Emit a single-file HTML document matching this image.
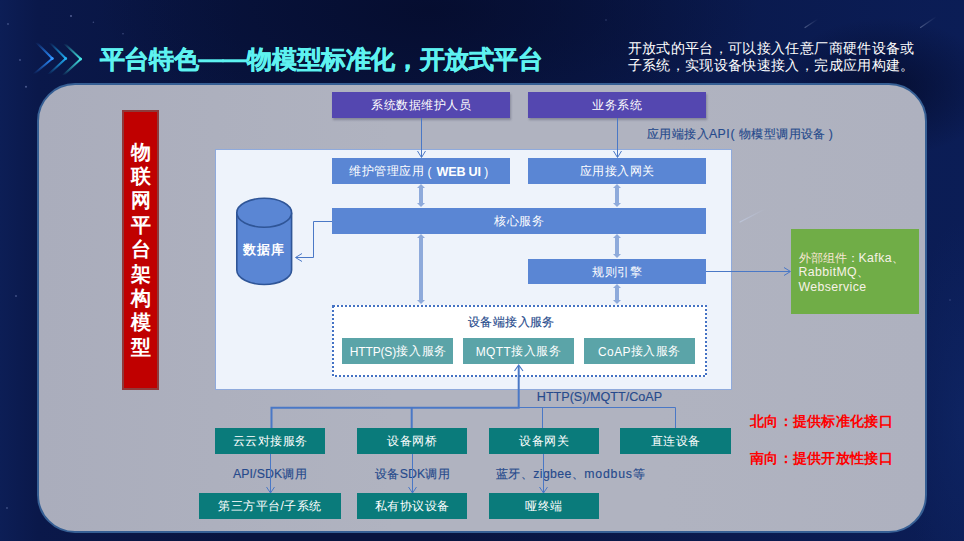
<!DOCTYPE html>
<html><head><meta charset="utf-8">
<style>
*{margin:0;padding:0;box-sizing:border-box}
html,body{width:964px;height:541px;overflow:hidden}
body{position:relative;font-family:"Liberation Sans",sans-serif;background:#0a1a4e;
background:radial-gradient(ellipse 330px 130px at 430px 10px,rgba(5,12,45,.85),rgba(5,12,45,0)),radial-gradient(ellipse 110px 70px at 885px 88px,rgba(4,10,40,.75),rgba(4,10,40,0)),radial-gradient(ellipse 60px 200px at 964px 420px,rgba(16,40,105,.6),rgba(16,40,105,0)),linear-gradient(90deg,#0c1e56 0%,#0a184a 4%,#08143f 25%,#08143f 45%,#0a1a4e 75%,#0b1d56 100%)}
.a{position:absolute}
.t{position:absolute;display:flex;align-items:center;justify-content:center;white-space:nowrap;color:#fff;font-size:12px;letter-spacing:.5px;padding-top:1px}
.L{letter-spacing:.4px}
.pp{margin:0 4.5px 0 3.5px}.pq{margin:0 0 0 3.5px}
.title{left:99.8px;top:44px;font-size:25px;letter-spacing:-.4px;font-weight:bold;color:#5ef2f0;-webkit-text-stroke:.4px #5ef2f0;white-space:nowrap;line-height:30px}
.sub{left:627.5px;top:40px;font-size:14px;letter-spacing:.36px;color:#fff;line-height:17px;white-space:nowrap}
.panel{left:37px;top:83px;width:890px;height:450px;border:2px solid #365f94;border-radius:38px;background:linear-gradient(90deg,#aaadbc,#b0b3c0 40%,#b0b3c0 70%,#aeb1bf)}
.redbox{left:122px;top:110px;width:37px;height:280px;background:#c00000;border:2px solid #8e3b3b;color:#fff;font-weight:bold;font-size:20px;line-height:24.4px;text-align:center;padding-top:27.5px}
.purple{background:#5447b0;box-shadow:1px 2px 2px rgba(60,60,80,.35)}
.cont{left:215px;top:149px;width:517px;height:241px;background:#eef3fb;border:1px solid #8faadc}
.blue{background:#5a86d4}
.dotted{left:332px;top:305px;width:375px;height:72px;background:#fff}
.tl{background:#5ba4a8}
.td{background:#0a7b7b}
.lbl{position:absolute;white-space:nowrap;color:#264a8c;-webkit-text-stroke:.15px #264a8c;font-size:12.3px;letter-spacing:.4px;line-height:14px}
.green{left:791px;top:229px;width:128px;height:85px;background:#70ad47;color:#f7f2e6;font-size:12.3px;line-height:14.5px;padding:21.5px 0 0 7.5px;white-space:nowrap}
.red{position:absolute;color:#ff0000;font-weight:bold;font-size:14.3px;letter-spacing:.3px;white-space:nowrap;line-height:16px}
</style></head><body>


<!-- stars & streaks -->
<svg class="a" style="left:0;top:0" width="964" height="541">
<defs><linearGradient id="st" x1="0" y1="1" x2="1" y2="0"><stop offset="0" stop-color="#c8d4f0" stop-opacity=".9"/><stop offset="1" stop-color="#c8d4f0" stop-opacity="0"/></linearGradient></defs>
<g stroke="url(#st)" stroke-width="1.2" stroke-linecap="round">
<path d="M805 27.5 L818 19" opacity=".35"/>
<path d="M920.5 27.5 L936.5 16.5" opacity=".35"/>
</g>
<g fill="#8c9ad0">
<circle cx="71" cy="16" r=".9" opacity=".6"/><circle cx="93.4" cy="22.2" r=".8" opacity=".4"/>
<circle cx="20" cy="60" r=".9" opacity=".45"/><circle cx="26" cy="86.7" r="1" opacity=".5"/>
<circle cx="123" cy="33.8" r=".8" opacity=".4"/><circle cx="8" cy="24" r=".9" opacity=".4"/>
<circle cx="606" cy="20" r=".8" opacity=".35"/><circle cx="950" cy="300" r=".8" opacity=".35"/>
<circle cx="16" cy="296" r="1" opacity=".4"/><circle cx="7" cy="508" r=".9" opacity=".4"/>
</g>
</svg>
<!-- chevrons -->
<svg class="a" style="left:0;top:0" width="100" height="90">
<defs>
<linearGradient id="c1a" x1="0" y1="0" x2="0" y2="1"><stop offset="0" stop-color="#2a8cff" stop-opacity="0"/><stop offset=".5" stop-color="#2a8cff" stop-opacity=".55"/><stop offset="1" stop-color="#2a8cff"/></linearGradient>
<linearGradient id="c1b" x1="0" y1="1" x2="0" y2="0"><stop offset="0" stop-color="#2a8cff" stop-opacity="0"/><stop offset=".5" stop-color="#2a8cff" stop-opacity=".55"/><stop offset="1" stop-color="#2a8cff"/></linearGradient>
<linearGradient id="c2a" x1="0" y1="0" x2="0" y2="1"><stop offset="0" stop-color="#1ea8f0" stop-opacity="0"/><stop offset=".5" stop-color="#1ea8f0" stop-opacity=".55"/><stop offset="1" stop-color="#1ea8f0"/></linearGradient>
<linearGradient id="c2b" x1="0" y1="1" x2="0" y2="0"><stop offset="0" stop-color="#1ea8f0" stop-opacity="0"/><stop offset=".5" stop-color="#1ea8f0" stop-opacity=".55"/><stop offset="1" stop-color="#1ea8f0"/></linearGradient>
<linearGradient id="c3a" x1="0" y1="0" x2="0" y2="1"><stop offset="0" stop-color="#3fe0e0" stop-opacity="0"/><stop offset=".5" stop-color="#3fe0e0" stop-opacity=".55"/><stop offset="1" stop-color="#3fe0e0"/></linearGradient>
<linearGradient id="c3b" x1="0" y1="1" x2="0" y2="0"><stop offset="0" stop-color="#3fe0e0" stop-opacity="0"/><stop offset=".5" stop-color="#3fe0e0" stop-opacity=".55"/><stop offset="1" stop-color="#3fe0e0"/></linearGradient>
</defs>
<g stroke-width="2" fill="none" stroke-linecap="round">
<path d="M36.3 42.3 L52.4 58.5" stroke="url(#c1a)"/><path d="M52.4 58.5 L34 74" stroke="url(#c1b)"/>
<path d="M50 42.6 L65.8 58.5" stroke="url(#c2a)"/><path d="M65.8 58.5 L48.5 74.5" stroke="url(#c2b)"/>
<path d="M64.5 43.5 L80.8 59" stroke="url(#c3a)"/><path d="M80.8 59 L63 75.5" stroke="url(#c3b)"/>
</g>
<g><circle cx="52.2" cy="58.5" r="1.6" fill="#3a9bff" opacity=".8"/><circle cx="65.6" cy="58.5" r="1.5" fill="#2ab8f5" opacity=".7"/><circle cx="80.6" cy="59" r="1.5" fill="#4aeaea" opacity=".7"/></g></svg>

<div class="a title">平台特色——物模型标准化，开放式平台</div>
<div class="a sub">开放式的平台，可以接入任意厂商硬件设备或<br>子系统，实现设备快速接入，完成应用构建。</div>

<div class="a panel"></div>
<svg class="a" style="left:0;top:0" width="964" height="541"><path d="M740 222 L765.5 208.7" stroke="url(#st)" stroke-width="1.2" stroke-linecap="round" opacity=".6"/></svg>
<div class="a redbox">物<br>联<br>网<br>平<br>台<br>架<br>构<br>模<br>型</div>

<div class="t purple" style="left:332px;top:92px;width:178px;height:26px">系统数据维护人员</div>
<div class="t purple" style="left:528px;top:92px;width:178px;height:26px">业务系统</div>
<div class="lbl" style="left:647px;top:127px">应用端接入<span class="L">API</span><span style="margin:0 4px 0 .5px">(</span>物模型调用设备<span style="margin-left:3px">)</span></div>

<div class="a cont"></div>
<div class="t blue" style="left:332px;top:158px;width:178px;height:26px;justify-content:flex-start;padding-left:17px">维护管理应用<span class="pp">(</span><b style="font-size:12.6px;letter-spacing:-.2px">WEB UI</b><span class="pq">)</span></div>
<div class="t blue" style="left:528px;top:158px;width:178px;height:26px">应用接入网关</div>
<div class="t blue" style="left:332px;top:208px;width:374px;height:26px">核心服务</div>
<div class="t blue" style="left:528px;top:259px;width:178px;height:25px">规则引擎</div>
<div class="a dotted"></div>
<div class="lbl" style="left:468px;top:315px">设备端接入服务</div>
<div class="t tl" style="left:342px;top:338px;width:111px;height:26px;padding-left:2px"><span class="L" style="letter-spacing:-.15px">HTTP(S)</span><span style="letter-spacing:.8px">接入服务</span></div>
<div class="t tl" style="left:463px;top:338px;width:111px;height:26px"><span class="L">MQTT</span>接入服务</div>
<div class="t tl" style="left:584px;top:338px;width:111px;height:26px"><span class="L">CoAP</span>接入服务</div>

<div class="a green"><span style="color:#f7e6d2">外部组件</span>：<span class="L">Kafka</span>、<br><span class="L">RabbitMQ</span>、<br><span class="L">Webservice</span></div>

<div class="lbl" style="left:536.8px;top:390px;font-size:12.6px;letter-spacing:0">HTTP(S)/MQTT/CoAP</div>

<div class="t td" style="left:215px;top:428px;width:110px;height:26px">云云对接服务</div>
<div class="t td" style="left:357px;top:428px;width:110px;height:26px">设备网桥</div>
<div class="t td" style="left:489px;top:428px;width:110px;height:26px">设备网关</div>
<div class="t td" style="left:620px;top:428px;width:111px;height:26px">直连设备</div>

<div class="lbl" style="left:233px;top:467px"><span class="L" style="letter-spacing:.1px">API/SDK</span>调用</div>
<div class="lbl" style="left:375px;top:467px">设备<span class="L" style="letter-spacing:.1px">SDK</span>调用</div>
<div class="lbl" style="left:496px;top:467px">蓝牙、<span class="L">zigbee</span>、<span class="L" style="letter-spacing:.8px">modbus</span>等</div>

<div class="t td" style="left:199px;top:493px;width:142px;height:26px">第三方平台/子系统</div>
<div class="t td" style="left:357px;top:493px;width:110px;height:26px">私有协议设备</div>
<div class="t td" style="left:489px;top:493px;width:110px;height:26px">哑终端</div>

<div class="red" style="left:750px;top:413px">北向：提供标准化接口</div>
<div class="red" style="left:750px;top:450px">南向：提供开放性接口</div>

<!-- lines -->
<svg class="a" style="left:0;top:0" width="964" height="541">
<g stroke="#4a78c6" stroke-width="1" fill="none">
<path d="M421.5 118 V157"/><path d="M417.5 151 L421.5 157.5 L425.5 151"/>
<path d="M617.5 118 V157"/><path d="M613.5 151 L617.5 157.5 L621.5 151"/>
<path d="M332 221.5 H313.5 V257.5 H296"/><path d="M302 253.5 L295.5 257.5 L302 261.5"/>
<path d="M706 271.5 H790"/><path d="M784 267.5 L790.5 271.5 L784 275.5"/>
<path d="M542.5 408 V428"/><path d="M519 407.5 H675.5 V428"/>
<path d="M270.5 454 V493"/><path d="M266.5 487 L270.5 493 L274.5 487"/>
<path d="M412.5 454 V493"/><path d="M408.5 487 L412.5 493 L416.5 487"/>
<path d="M543.5 454 V493"/><path d="M539.5 487 L543.5 493 L547.5 487"/>
</g>
<g stroke="#4a78c6" stroke-width="2" fill="none">
<path d="M271.5 428 V407.8 H518.7 V366"/><path d="M411.7 407.8 V428"/>
<path d="M514.5 371 L518.7 365 L523 371" stroke-width="1.2"/>
</g>
<!-- dotted box -->
<rect x="333" y="306" width="373" height="70" fill="none" stroke="#4472c4" stroke-width="2" stroke-dasharray="2 2"/>
<!-- double arrows -->
<g fill="#8eaadb">
<path d="M421 184 L425 188 L423 188 L423 203 L425 203 L421 207 L417 203 L419 203 L419 188 L417 188 Z"/>
<path d="M617 184 L621 188 L619 188 L619 203 L621 203 L617 207 L613 203 L615 203 L615 188 L613 188 Z"/>
<path d="M421 234 L425 238 L423 238 L423 300 L425 300 L421 304 L417 300 L419 300 L419 238 L417 238 Z"/>
<path d="M617 234 L621 238 L619 238 L619 254 L621 254 L617 258 L613 254 L615 254 L615 238 L613 238 Z"/>
<path d="M617 284 L621 288 L619 288 L619 300 L621 300 L617 304 L613 300 L615 300 L615 288 L613 288 Z"/>
</g>
<!-- cylinder -->
<g stroke="#2f5597" stroke-width="1.6" fill="#5a86d4">
<path d="M236.8 212.7 V270 A27.4 14.5 0 0 0 291.6 270 V212.7"/>
<ellipse cx="264.2" cy="212.7" rx="27.4" ry="14.5"/>
</g>
</svg>
<div class="t" style="left:236px;top:240px;width:56px;height:18px;font-weight:bold;font-size:13px;letter-spacing:1px">数据库</div>

</body></html>
